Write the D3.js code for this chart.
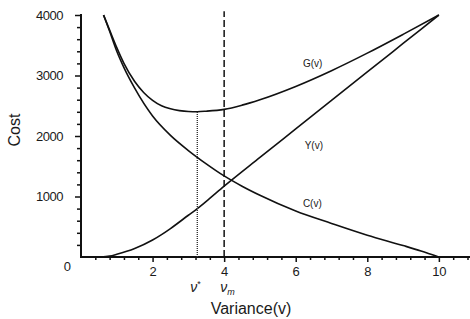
<!DOCTYPE html>
<html>
<head>
<meta charset="utf-8">
<script src="https://cdn.jsdelivr.net/npm/d3@7"></script>
<style>
  html, body { margin: 0; padding: 0; background: #fff; }
  svg { display: block; }
  text { font-family: "Liberation Sans", Arial, sans-serif; fill: #1a1a1a; }
</style>
</head>
<body>
<svg id="chart" width="470" height="319"></svg>
<script>
// ---- data ----
const vC = [0.63, 0.8, 1.0, 1.2, 1.5, 2.0, 2.5, 3.0, 3.5, 4.0, 4.5, 5.0, 6.0, 7.0, 8.0, 9.0, 9.5, 10.0];
const cValues = [4000, 3730, 3400, 3130, 2790, 2330, 2010, 1760, 1540, 1340, 1170, 1020, 760, 555, 360, 190, 100, 0];

const vY = [0.55, 0.8, 1.0, 1.5, 2.0, 2.25, 2.5, 3.0, 3.25, 3.5, 4.0, 5.0, 6.0, 7.0, 8.0, 9.0, 10.0];
const yValues = [0, 15, 45, 140, 280, 370, 470, 690, 800, 920, 1170, 1645, 2116, 2587, 3058, 3529, 4000];

const vG = [0.63, 0.8, 1.0, 1.2, 1.5, 1.75, 2.0, 2.25, 2.5, 2.75, 3.0, 3.25, 3.5, 4.0, 4.5, 5.0, 6.0, 7.0, 8.0, 9.0, 10.0];
const gValues = [4000, 3750, 3460, 3200, 2900, 2720, 2590, 2500, 2450, 2420, 2405, 2402, 2410, 2440, 2510, 2600, 2820, 3080, 3370, 3680, 4000];

const xTickValues = [2, 4, 6, 8, 10];
const yTickValues = [1000, 2000, 3000, 4000];
const vStar = 3.25;
const vStarCost = 2402;
const vM = 4.0;
const curveLabels = ["G(v)", "Y(v)", "C(v)"];
const curveLabelPos = [[6.2, 3140], [6.25, 1785], [6.2, 826]];

// ---- scales ----
const svg = d3.select("#chart");
const x = d3.scaleLinear().domain([0, 10.87]).range([81, 470]);
const y = d3.scaleLinear().domain([0, 4000]).range([257, 15]);
const ink = "#111";

// ---- axes (d3 axis generators) ----
const xMinor = d3.range(0.4, 10.85, 0.4).filter(v => Math.abs(v / 2 - Math.round(v / 2)) > 0.01);
const yMinor = d3.range(200, 4000, 200).filter(v => v % 1000 !== 0);

// minor x ticks
const gxMinor = svg.append("g").attr("transform", `translate(0,${y(0)})`)
  .call(d3.axisBottom(x).tickValues(xMinor).tickSize(3).tickFormat(""));
// major x ticks + labels
const gx = svg.append("g").attr("transform", `translate(0,${y(0)})`)
  .call(d3.axisBottom(x).tickValues(xTickValues).tickSize(5).tickPadding(5).tickFormat(d3.format("d")));
// minor y ticks
const gyMinor = svg.append("g").attr("transform", `translate(${x(0)},0)`)
  .call(d3.axisLeft(y).tickValues(yMinor).tickSize(4).tickFormat(""));
// major y ticks + labels
const gy = svg.append("g").attr("transform", `translate(${x(0)},0)`)
  .call(d3.axisLeft(y).tickValues(yTickValues).tickSize(6).tickPadding(12).tickFormat(d3.format("d")));

[gxMinor, gx, gyMinor, gy].forEach(g => {
  g.selectAll(".domain").remove();
  g.selectAll(".tick line").attr("stroke", ink).attr("stroke-width", 1.5);
  g.selectAll(".tick text").attr("fill", "#1a1a1a").attr("font-size", 13)
    .attr("font-family", "'Liberation Sans', Arial, sans-serif");
});
gy.selectAll(".tick text").attr("letter-spacing", -0.5);

// axis lines
svg.append("path").attr("d", `M${x(0)},${y(4000) - 1}V${y(0)}H470`)
  .attr("fill", "none").attr("stroke", ink).attr("stroke-width", 2);

svg.append("text").attr("x", 71).attr("y", 271).attr("text-anchor", "end").attr("font-size", 13).text("0");

// axis titles
svg.append("text").attr("x", 251).attr("y", 314).attr("text-anchor", "middle")
  .attr("font-size", 16).text("Variance(v)");
svg.append("text").attr("transform", "translate(20,130) rotate(-90)").attr("text-anchor", "middle")
  .attr("font-size", 16).text("Cost");

// ---- curves ----
const line = d3.line().x(d => x(d[0])).y(d => y(d[1])).curve(d3.curveMonotoneX);
const series = [
  d3.zip(vG, gValues),
  d3.zip(vY, yValues),
  d3.zip(vC, cValues)
];
svg.selectAll("path.curve").data(series).join("path").attr("class", "curve")
  .attr("d", line).attr("fill", "none").attr("stroke", ink).attr("stroke-width", 1.6);

// reference lines
svg.append("line").attr("x1", x(vStar)).attr("x2", x(vStar)).attr("y1", y(0)).attr("y2", y(vStarCost))
  .attr("stroke", "#333").attr("stroke-width", 1.4).attr("stroke-dasharray", "1,1");
svg.append("line").attr("x1", x(vM)).attr("x2", x(vM)).attr("y1", y(0)).attr("y2", y(4060))
  .attr("stroke", ink).attr("stroke-width", 1.5).attr("stroke-dasharray", "7,3");

// curve labels
svg.selectAll("text.cl").data(curveLabels).join("text").attr("class", "cl")
  .attr("x", (d, i) => x(curveLabelPos[i][0])).attr("y", (d, i) => y(curveLabelPos[i][1]))
  .attr("font-size", 10).text(d => d);

// v* and v_m labels
const nuStar = svg.append("text").attr("x", x(vStar) - 7).attr("y", 292)
  .attr("font-family", "'Liberation Serif', 'DejaVu Serif', serif").attr("font-style", "italic").attr("font-size", 14);
nuStar.append("tspan").text("ν");
nuStar.append("tspan").attr("dy", -5).attr("font-size", 9).attr("font-style", "normal").text("*");
const nuM = svg.append("text").attr("x", x(vM) - 4).attr("y", 292)
  .attr("font-family", "'Liberation Serif', 'DejaVu Serif', serif").attr("font-style", "italic").attr("font-size", 14);
nuM.append("tspan").text("ν");
nuM.append("tspan").attr("dy", 3).attr("font-size", 9).text("m");
</script>
</body>
</html>
